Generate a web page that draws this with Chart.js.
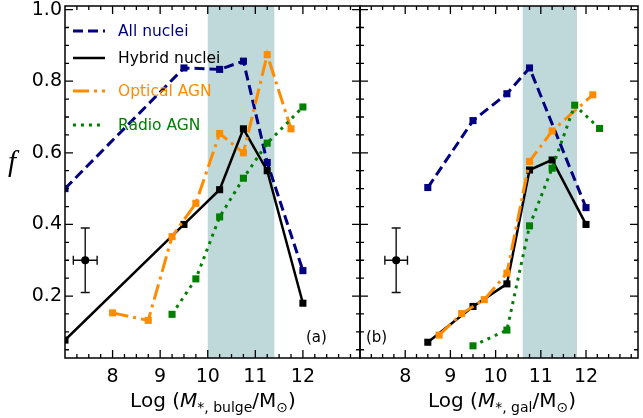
<!DOCTYPE html>
<html>
<head>
<meta charset="utf-8">
<script src="https://cdn.jsdelivr.net/npm/chart.js@4.4.1/dist/chart.umd.min.js"></script>
<style>
  html, body { margin: 0; padding: 0; background: #fff; }
  #wrap { position: relative; width: 643px; height: 418px; overflow: hidden; font-family: "DejaVu Sans", sans-serif; }
  canvas { position: absolute; left: 0; top: 0; }
  .lbl { position: absolute; white-space: nowrap; color: #000; z-index: 5; }
  .xt { top: 386px; font-size: 20px; line-height: 28px; transform: translateX(-50%); }
  .xt sub { font-size: 14px; vertical-align: -0.35em; line-height: 0; }
  .yt { left: 8px; top: 147px; font-family: "Liberation Serif", serif; font-style: italic; font-size: 29px; line-height: 28px; }
  .pan { top: 328px; font-size: 15px; line-height: 18px; }
</style>
</head>
<body>
<div id="wrap">
  <canvas id="chartA" width="643" height="418"></canvas>
  <canvas id="chartB" width="643" height="418"></canvas>
  <div class="lbl yt">f</div>
  <div class="lbl xt" style="left:213px">Log (<i>M</i><sub>*, bulge</sub>/M<sub>⊙</sub>)</div>
  <div class="lbl xt" style="left:502px">Log (<i>M</i><sub>*, gal</sub>/M<sub>⊙</sub>)</div>
  <div class="lbl pan" style="left:306px">(a)</div>
  <div class="lbl pan" style="left:366px">(b)</div>
</div>
<script>
// tick labels shared by both panels
const xTicks = [8, 9, 10, 11, 12];
const yTicks = [0.2, 0.4, 0.6, 0.8, 1.0];
const seriesNames = ['All nuclei', 'Hybrid nuclei', 'Optical AGN', 'Radio AGN'];

// panel (a): bulge mass
const allA_x = [7, 9.5, 10.25, 10.75, 11.25, 12];
const allA_y = [0.50, 0.837, 0.833, 0.856, 0.573, 0.271];
const hybA_x = [7, 9.5, 10.25, 10.75, 11.25, 12];
const hybA_y = [0.077, 0.40, 0.497, 0.667, 0.55, 0.18];
const optA_x = [8, 8.75, 9.25, 9.75, 10.25, 10.75, 11.25, 11.75];
const optA_y = [0.153, 0.132, 0.366, 0.459, 0.654, 0.60, 0.874, 0.667];
const radA_x = [9.25, 9.75, 10.25, 10.75, 11.25, 12];
const radA_y = [0.149, 0.248, 0.421, 0.529, 0.627, 0.728];
const errA_x = [7.425], errA_y = [0.30], errA_dx = [0.25], errA_dy = [0.09];
const shadeA = [10.0, 11.4];

// panel (b): galaxy mass
const allB_x = [8.5, 9.5, 10.25, 10.75, 12];
const allB_y = [0.503, 0.69, 0.765, 0.837, 0.447];
const hybB_x = [8.5, 9.5, 10.25, 10.75, 11.25, 12];
const hybB_y = [0.071, 0.171, 0.234, 0.552, 0.58, 0.40];
const optB_x = [8.75, 9.25, 9.75, 10.25, 10.75, 11.25, 12.15];
const optB_y = [0.091, 0.151, 0.19, 0.264, 0.576, 0.661, 0.762];
const radB_x = [9.5, 10.25, 10.75, 11.25, 11.75, 12.3];
const radB_y = [0.061, 0.105, 0.396, 0.557, 0.733, 0.668];
const errB_x = [7.8], errB_y = [0.30], errB_dx = [0.25], errB_dy = [0.09];
const shadeB = [10.6, 11.8];

const styles = [
  { color: '#000080', width: 3, dash: [10, 5] },
  { color: '#000000', width: 2.5, dash: [] },
  { color: '#ff8c00', width: 3, dash: [16, 5, 3, 5] },
  { color: '#008000', width: 3, dash: [3, 5] }
];
const legendRows = [25, 52, 85, 119];

function pts(xs, ys) {
  return xs.map((x, i) => ({ x: x, y: ys[i] }));
}

// shading, error bars, legend, ticks and frame
const decor = {
  id: 'decor',
  beforeDatasetsDraw(chart) {
    const { ctx, chartArea: a, scales: { x, y } } = chart;
    const p = chart.options.plugins.decor;
    ctx.save();
    ctx.fillStyle = 'rgba(95,158,160,0.4)';
    const x0 = x.getPixelForValue(p.shade[0]), x1 = x.getPixelForValue(p.shade[1]);
    ctx.fillRect(x0, a.top, x1 - x0, a.height);
    // error bar
    ctx.strokeStyle = '#111';
    ctx.lineWidth = 1.4;
    ctx.beginPath();
    p.err.x.forEach((ex, i) => {
      const cx = x.getPixelForValue(ex), cy = y.getPixelForValue(p.err.y[i]);
      const l = x.getPixelForValue(ex - p.err.dx[i]), r = x.getPixelForValue(ex + p.err.dx[i]);
      const t = y.getPixelForValue(p.err.y[i] + p.err.dy[i]), b = y.getPixelForValue(p.err.y[i] - p.err.dy[i]);
      ctx.moveTo(l, cy); ctx.lineTo(r, cy);
      ctx.moveTo(l, cy - 4.5); ctx.lineTo(l, cy + 4.5);
      ctx.moveTo(r, cy - 4.5); ctx.lineTo(r, cy + 4.5);
      ctx.moveTo(cx, t); ctx.lineTo(cx, b);
      ctx.moveTo(cx - 4.5, t); ctx.lineTo(cx + 4.5, t);
      ctx.moveTo(cx - 4.5, b); ctx.lineTo(cx + 4.5, b);
    });
    ctx.stroke();
    ctx.restore();
  },
  afterDatasetsDraw(chart) {
    const p = chart.options.plugins.decor;
    if (!p.legend) return;
    const { ctx, chartArea: a } = chart;
    ctx.save();
    ctx.font = '15.5px "DejaVu Sans"';
    ctx.textBaseline = 'middle';
    seriesNames.forEach((name, i) => {
      const s = styles[i];
      const yy = a.top + legendRows[i];
      ctx.strokeStyle = s.color;
      ctx.lineWidth = s.width;
      ctx.setLineDash(s.dash);
      ctx.beginPath();
      ctx.moveTo(a.left + 8, yy);
      ctx.lineTo(a.left + 40, yy);
      ctx.stroke();
      ctx.setLineDash([]);
      ctx.fillStyle = s.color;
      ctx.fillText(name, a.left + 53, yy + 1);
    });
    ctx.restore();
  },
  afterDraw(chart) {
    const { ctx, chartArea: a, scales: { x, y } } = chart;
    ctx.save();
    ctx.strokeStyle = '#000';
    ctx.lineWidth = 1.3;
    ctx.beginPath();
    for (let k = 1; 7 + k * 0.25 < x.max; k++) {
      const v = 7 + k * 0.25;
      const len = (k % 4 === 0 && xTicks.includes(v)) ? 8 : 4;
      const px = x.getPixelForValue(v);
      ctx.moveTo(px, a.bottom); ctx.lineTo(px, a.bottom - len);
      ctx.moveTo(px, a.top); ctx.lineTo(px, a.top + len);
    }
    for (let k = 1; k * 0.05 < y.max; k++) {
      const v = k * 0.05;
      if (v <= y.min) continue;
      const len = (k % 4 === 0) ? 8 : 4;
      const py = y.getPixelForValue(v);
      ctx.moveTo(a.left, py); ctx.lineTo(a.left + len, py);
      ctx.moveTo(a.right, py); ctx.lineTo(a.right - len, py);
    }
    ctx.stroke();
    ctx.lineWidth = 1.5;
    ctx.strokeRect(a.left, a.top, a.right - a.left, a.bottom - a.top);
    ctx.restore();
  }
};

function makeChart(id, series, err, shade, xMax, pad, yWidth, showYLabels, legend) {
  const datasets = series.map((s, i) => ({
    label: seriesNames[i],
    data: pts(s[0], s[1]),
    borderColor: styles[i].color,
    backgroundColor: styles[i].color,
    borderWidth: styles[i].width,
    borderDash: styles[i].dash,
    pointStyle: 'rect',
    pointRadius: 5,
    pointBorderWidth: 0,
    pointBackgroundColor: styles[i].color,
    tension: 0,
    fill: false,
    order: 10 - i
  }));
  datasets.push({
    label: 'error',
    data: pts(err.x, err.y),
    showLine: false,
    pointStyle: 'circle',
    pointRadius: 4,
    pointBorderWidth: 0,
    pointBackgroundColor: '#000',
    backgroundColor: '#000',
    borderColor: '#000',
    order: 0
  });

  return new Chart(document.getElementById(id), {
    type: 'line',
    data: { datasets: datasets },
    plugins: [decor],
    options: {
      responsive: false,
      animation: false,
      devicePixelRatio: 1,
      layout: { padding: pad },
      plugins: {
        legend: { display: false },
        tooltip: { enabled: false },
        decor: { shade: shade, err: err, legend: legend }
      },
      scales: {
        x: {
          type: 'linear', min: 7, max: xMax,
          grid: { display: false, drawTicks: false },
          border: { display: false },
          afterBuildTicks: s => { s.ticks = xTicks.map(v => ({ value: v })); },
          afterFit: s => { s.height = 60; s.paddingLeft = 0; s.paddingRight = 0; },
          ticks: {
            color: '#000', padding: 8, maxRotation: 0, autoSkip: false,
            font: { family: 'DejaVu Sans', size: 19 },
            callback: v => String(v)
          }
        },
        y: {
          type: 'linear', min: 0.027, max: 1.01,
          grid: { display: false, drawTicks: false },
          border: { display: false },
          afterBuildTicks: s => { s.ticks = yTicks.map(v => ({ value: v })); },
          afterFit: s => { s.width = yWidth; s.paddingTop = 0; s.paddingBottom = 0; },
          ticks: {
            display: showYLabels,
            color: '#000', padding: 3,
            font: { family: 'DejaVu Sans', size: 19 },
            callback: v => v.toFixed(1)
          }
        }
      }
    }
  });
}

makeChart('chartA',
  [[allA_x, allA_y], [hybA_x, hybA_y], [optA_x, optA_y], [radA_x, radA_y]],
  { x: errA_x, y: errA_y, dx: errA_dx, dy: errA_dy },
  shadeA, 13.2, { left: 0, top: 6, right: 283, bottom: 0 }, 65, true, true);

makeChart('chartB',
  [[allB_x, allB_y], [hybB_x, hybB_y], [optB_x, optB_y], [radB_x, radB_y]],
  { x: errB_x, y: errB_y, dx: errB_dx, dy: errB_dy },
  shadeB, 13.15, { left: 360, top: 6, right: 0, bottom: 0 }, 0, false, false);
</script>
</body>
</html>
